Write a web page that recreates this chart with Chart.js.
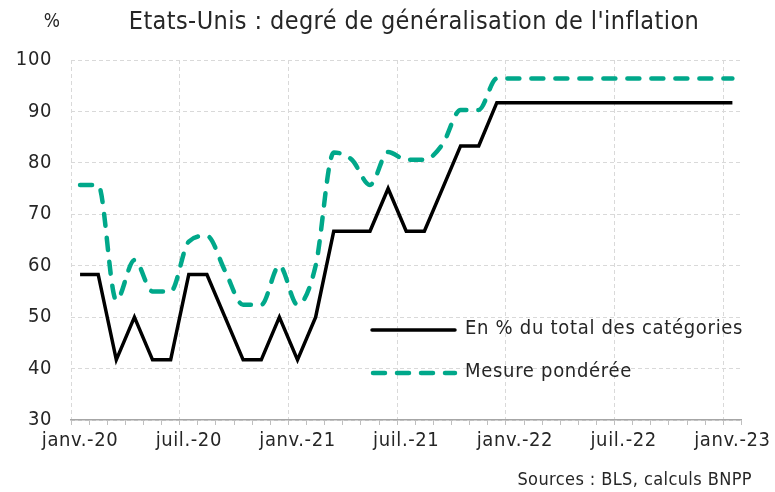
<!DOCTYPE html>
<html>
<head>
<meta charset="utf-8">
<script src="https://cdn.jsdelivr.net/npm/chart.js@4.4.0/dist/chart.umd.min.js"></script>
<style>
  html, body { margin: 0; padding: 0; background: #fff; }
  canvas { display: block; }
</style>
</head>
<body>
<canvas id="inflChart" width="775" height="492"></canvas>
<script>
// Mois de janv.-20 à janv.-23
const moisCourts = ["janv.", "févr.", "mars", "avr.", "mai", "juin", "juil.", "août", "sept.", "oct.", "nov.", "déc."];
const mois = [];
for (let a = 20; a <= 23; a++) {
    for (let m = 0; m < 12; m++) {
        if (a === 23 && m > 0) break;
        mois.push(moisCourts[m] + "-" + a);
    }
}

// En % du total des catégories
const partCategories = [
    58.3, 58.3, 41.7, 50.0, 41.7, 41.7, 58.3, 58.3, 50.0, 41.7, 41.7, 50.0,
    41.7, 50.0, 66.7, 66.7, 66.7, 75.0, 66.7, 66.7, 75.0, 83.3, 83.3, 91.7,
    91.7, 91.7, 91.7, 91.7, 91.7, 91.7, 91.7, 91.7, 91.7, 91.7, 91.7, 91.7,
    91.7
];

// Mesure pondérée
const mesurePonderee = [
    75.7, 75.7, 53.3, 61.1, 55.0, 55.0, 64.7, 65.8, 59.0, 52.4, 52.4, 60.0,
    52.4, 60.0, 82.0, 80.6, 75.7, 82.1, 80.6, 80.6, 83.6, 90.3, 90.3, 96.4,
    96.4, 96.4, 96.4, 96.4, 96.4, 96.4, 96.4, 96.4, 96.4, 96.4, 96.4, 96.4,
    96.4
];

const yTicks = [30, 40, 50, 60, 70, 80, 90, 100];

const vert = "#00a88a";
const police = "'Liberation Sans Narrow', 'DejaVu Sans Condensed', 'Roboto', sans-serif";
const texte = "#262626";
const grille = "#d9d9d9";

// Titre, légende et source dessinés sur le canvas
const decor = {
    id: "decor",
    beforeUpdate(chart) { chart.ctx.letterSpacing = "0.6px"; },
    beforeDraw(chart) { chart.ctx.letterSpacing = "0.6px"; },
    afterDraw(chart) {
        const c = chart.ctx;
        c.save();
        c.fillStyle = texte;
        c.textBaseline = "middle";
        c.font = "25px " + police;
        c.letterSpacing = "0.4px";
        c.textAlign = "center";
        c.fillText("Etats-Unis : degré de généralisation de l'inflation", 414, 22);
        c.font = "19px " + police;
        c.fillText("%", 52, 22);
        c.font = "18px " + police;
        c.textAlign = "right";
        c.fillText("Sources : BLS, calculs BNPP", 752, 480);

        // légende
        c.lineCap = "round";
        c.strokeStyle = "#000";
        c.lineWidth = 3.5;
        c.beginPath(); c.moveTo(372, 330); c.lineTo(455, 330); c.stroke();
        c.strokeStyle = vert;
        c.lineWidth = 4.5;
        c.setLineDash([12, 12]);
        c.beginPath(); c.moveTo(373, 373); c.lineTo(455, 373); c.stroke();
        c.setLineDash([]);
        c.font = "20px " + police;
        c.letterSpacing = "0.7px";
        c.textAlign = "left";
        c.fillText("En % du total des catégories", 465, 329);
        c.fillText("Mesure pondérée", 465, 372);
        c.restore();
    }
};

const ctx = document.getElementById("inflChart").getContext("2d");
new Chart(ctx, {
    type: "line",
    data: {
        labels: mois,
        datasets: [{
            label: "En % du total des catégories",
            data: partCategories,
            borderColor: "#000",
            borderWidth: 3.5,
            pointRadius: 0,
            tension: 0,
            borderJoinStyle: "miter",
        }, {
            label: "Mesure pondérée",
            data: mesurePonderee,
            borderColor: vert,
            borderWidth: 4.5,
            borderDash: [12, 12],
            borderCapStyle: "round",
            pointRadius: 0,
            cubicInterpolationMode: "monotone",
            tension: 0.2,
        }],
    },
    options: {
        responsive: false,
        animation: false,
        devicePixelRatio: 1,
        layout: { padding: { top: 60, right: 29, bottom: 0, left: 0 } },
        plugins: {
            legend: { display: false },
            tooltip: { enabled: false },
        },
        scales: {
            x: {
                type: "category",
                offset: true,
                afterFit: s => { s.height = 72; },
                grid: {
                    offset: true,
                    color: c => (c.index % 6 === 0 && c.index < 37) ? grille : "rgba(0,0,0,0)",
                    tickColor: "#bfbfbf",
                    tickLength: 5,
                    lineWidth: 1,
                },
                border: { display: true, color: "#a6a6a6", width: 1.5, dash: [4, 3] },
                ticks: {
                    autoSkip: false,
                    maxRotation: 0,
                    padding: 4,
                    color: texte,
                    font: { family: police, size: 20 },
                    callback: function (v, i) { return i % 6 === 0 ? this.getLabelForValue(v) : ""; },
                },
            },
            y: {
                min: 30,
                max: 100,
                afterFit: s => { s.width = 71; },
                afterBuildTicks: s => { s.ticks = yTicks.map(v => ({ value: v })); },
                grid: { color: grille, drawTicks: false, lineWidth: 1 },
                border: { display: false, dash: [4, 3] },
                ticks: {
                    padding: 19,
                    color: texte,
                    font: { family: police, size: 20 },
                },
            },
        },
    },
    plugins: [decor],
});
</script>
</body>
</html>
